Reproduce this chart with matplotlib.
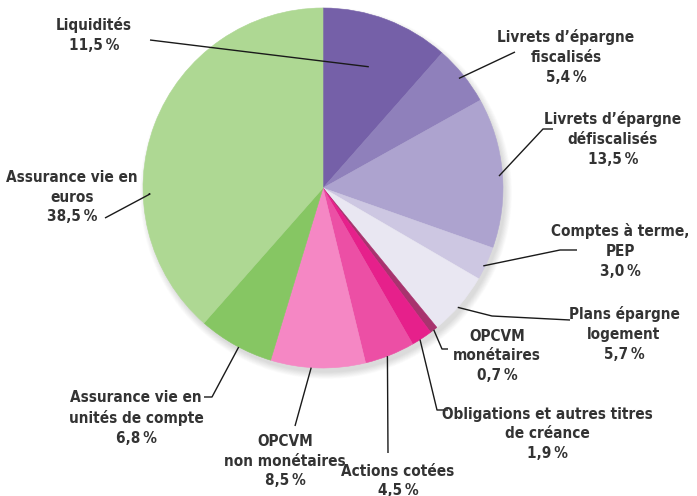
import numpy as np
import matplotlib.pyplot as plt

plt.rcParams['font.family'] = ['DejaVu Sans']
plt.rcParams['font.stretch'] = 'condensed'

# Données (%), dans l'ordre horaire depuis midi
labels = [
    "Liquidités",
    "Livrets d’épargne\nfiscalisés",
    "Livrets d’épargne\ndéfiscalisés",
    "Comptes à terme,\nPEP",
    "Plans épargne\nlogement",
    "OPCVM\nmonétaires",
    "Obligations et autres titres\nde créance",
    "Actions cotées",
    "OPCVM\nnon monétaires",
    "Assurance vie en\nunités de compte",
    "Assurance vie en\neuros",
]
values = [11.5, 5.4, 13.5, 3.0, 5.7, 0.7, 1.9, 4.5, 8.5, 6.8, 38.5]
colors = ['#7560a8', '#8f80bb', '#ada3cf', '#cdc7e2', '#e9e7f2', '#a8336e',
          '#e6208b', '#ec4fa5', '#f587c4', '#86c663', '#aed893']

W, H = 697, 496
CX, CY, R = 323, H - 188, 180

# position du texte (x, y depuis le haut), point d'ancrage sur la part (fraction, rayon),
# coudes éventuels de la ligne de rappel (x, y depuis le haut)
layout = [
    ((94, 35), (0.5, 0.72), [(150, 40)]),
    ((566, 57), (0.5, 0.97), [(515, 52)]),
    ((613, 139), (0.52, 0.98), [(543, 129), (553, 129)]),
    ((620, 251), (0.6, 0.99), [(560, 250), (577, 250)]),
    ((624, 334), (0.55, 1.0), [(492, 316), (570, 320)]),
    ((497, 356), (0.5, 1.0), [(442, 349), (448, 349)]),
    ((547, 434), (0.6, 1.0), [(437, 410), (448, 410)]),
    ((398, 481), (0.55, 1.0), [(388, 453)]),
    ((285, 461), (0.57, 1.0), [(295, 426)]),
    ((136, 418), (0.45, 1.0), [(212, 397), (204, 397)]),
    ((72, 197), (0.336, 0.97), [(150, 194), (105, 218)]),
]

fig = plt.figure(figsize=(W / 100, H / 100), dpi=100)
ax = fig.add_axes([0, 0, 1, 1])

# ombre légère
for k in range(12):
    ax.add_patch(plt.Circle((CX + 3, CY - 5), R + 6 - k * 0.6, color='#000000',
                            alpha=0.012, lw=0, zorder=0))

wedges, _ = ax.pie(values, colors=colors, startangle=90, counterclock=False,
                   radius=R, center=(CX, CY), frame=True,
                   wedgeprops=dict(linewidth=0.4, antialiased=True))
for w, c in zip(wedges, colors):
    w.set_edgecolor(c)
    w.set_zorder(2)
ax.set_xlim(0, W)
ax.set_ylim(0, H)
ax.set_aspect('equal')
ax.axis('off')

for w, lab, val, (tpos, (frac, rf), pts) in zip(wedges, labels, values, layout):
    th = np.radians(w.theta2 - frac * (w.theta2 - w.theta1))
    x0 = CX + R * rf * np.cos(th)
    y0 = CY + R * rf * np.sin(th)
    xs = [x0] + [p[0] for p in pts]
    ys = [y0] + [H - p[1] for p in pts]
    ax.plot(xs, ys, color='#1a1a1a', lw=1.0, zorder=3, solid_capstyle='butt')
    txt = lab + "\n" + f"{val:.1f}".replace('.', ',') + "\u2009%"
    ax.text(tpos[0], H - tpos[1], txt, ha='center', va='center', fontsize=11,
            fontweight='bold', fontstretch='condensed', color='#333333',
            linespacing=1.4, zorder=4)

fig.savefig('out.png', dpi=100)
